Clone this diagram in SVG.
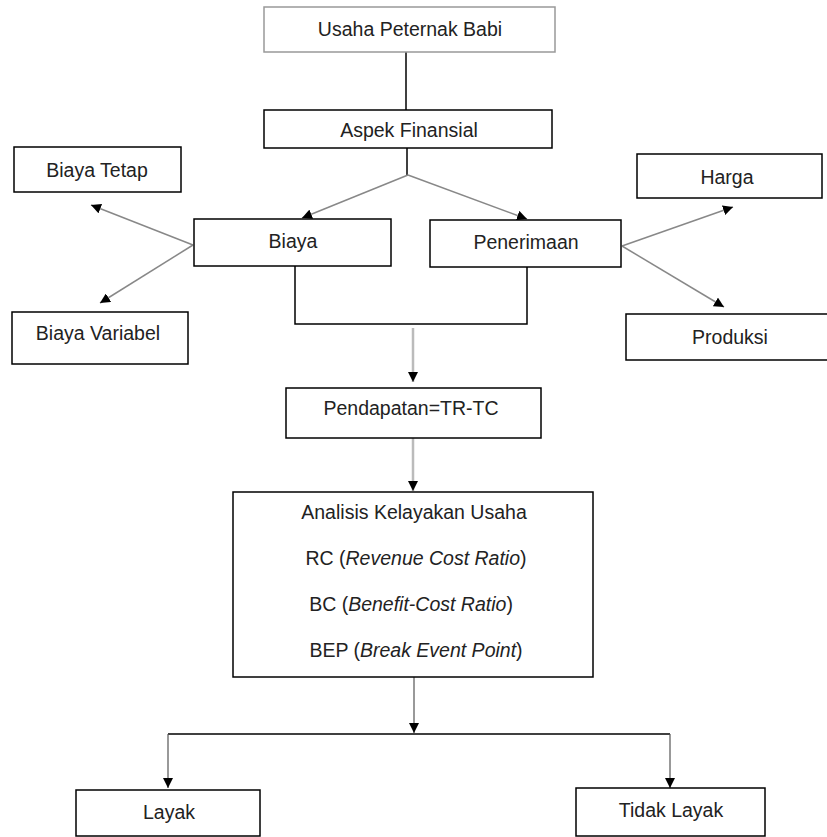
<svg xmlns="http://www.w3.org/2000/svg" width="827" height="837" viewBox="0 0 827 837">
<style>
.box{fill:#fff;stroke:#000;stroke-width:1.5}
.gbox{fill:#fff;stroke:#999;stroke-width:1.5}
text{font-family:"Liberation Sans",Arial,sans-serif;font-size:19.5px;fill:#222;text-anchor:middle}
.it{font-style:italic}
.k{fill:none;stroke:#000;stroke-width:1.5}
.g{fill:none;stroke:#888;stroke-width:1.5}
.lg{fill:none;stroke:#bbb;stroke-width:2.5}
.dg{fill:none;stroke:#555;stroke-width:1.2}
</style>
<defs>
<marker id="ah" viewBox="0 0 10 10" refX="10" refY="5" markerWidth="10" markerHeight="10" markerUnits="userSpaceOnUse" orient="auto">
<path d="M0,0 L10,5 L0,10 z" fill="#000"/>
</marker>
</defs>
<g id="connectors">
<line class="k" x1="406" y1="52" x2="406" y2="110"/>
<line class="k" x1="407" y1="148" x2="407" y2="175"/>
<line class="g" x1="408" y1="175" x2="302" y2="218" marker-end="url(#ah)"/>
<line class="g" x1="408" y1="175" x2="527" y2="219" marker-end="url(#ah)"/>
<line class="g" x1="193" y1="245" x2="91" y2="205" marker-end="url(#ah)"/>
<line class="g" x1="193" y1="245" x2="100" y2="303" marker-end="url(#ah)"/>
<line class="g" x1="622" y1="246" x2="733" y2="207" marker-end="url(#ah)"/>
<line class="g" x1="622" y1="246" x2="724" y2="307" marker-end="url(#ah)"/>
<polyline class="k" points="295,266 295,324 527,324 527,267"/>
<line class="lg" x1="413" y1="328" x2="413" y2="382" marker-end="url(#ah)"/>
<line class="lg" x1="413" y1="438" x2="413" y2="491" marker-end="url(#ah)"/>
<line class="dg" x1="414" y1="677" x2="414" y2="733" marker-end="url(#ah)"/>
<line class="k" x1="168" y1="734" x2="670" y2="734"/>
<line class="dg" x1="168" y1="734" x2="168" y2="788" marker-end="url(#ah)"/>
<line class="dg" x1="670" y1="734" x2="670" y2="788" marker-end="url(#ah)"/>
</g>
<g id="usaha"><rect class="gbox" x="264" y="7" width="291" height="45"/><text x="410" y="36">Usaha Peternak Babi</text></g>
<g id="aspek"><rect class="box" x="264" y="110" width="288" height="38"/><text x="409" y="137">Aspek Finansial</text></g>
<g id="biayatetap"><rect class="box" x="14" y="147" width="167" height="45"/><text x="97" y="177">Biaya Tetap</text></g>
<g id="harga"><rect class="box" x="637" y="154" width="185" height="44"/><text x="727" y="184">Harga</text></g>
<g id="biaya"><rect class="box" x="194" y="219" width="197" height="47"/><text x="293" y="248">Biaya</text></g>
<g id="penerimaan"><rect class="box" x="430" y="220" width="191" height="47"/><text x="526" y="249">Penerimaan</text></g>
<g id="biayavariabel"><rect class="box" x="12" y="312" width="176" height="52"/><text x="98" y="340">Biaya Variabel</text></g>
<g id="produksi"><rect class="box" x="626" y="314" width="202" height="46"/><text x="730" y="344">Produksi</text></g>
<g id="pendapatan"><rect class="box" x="286" y="388" width="255" height="50"/><text x="411" y="415">Pendapatan=TR-TC</text></g>
<g id="analisis"><rect class="box" x="233" y="492" width="360" height="185"/>
<text x="414" y="519">Analisis Kelayakan Usaha</text>
<text x="416" y="565">RC (<tspan class="it">Revenue Cost Ratio</tspan>)</text>
<text x="411" y="611">BC (<tspan class="it">Benefit-Cost Ratio</tspan>)</text>
<text x="416" y="657">BEP (<tspan class="it">Break Event Point</tspan>)</text>
</g>
<g id="layak"><rect class="box" x="76" y="790" width="184" height="46"/><text x="169" y="819">Layak</text></g>
<g id="tidaklayak"><rect class="box" x="576" y="788" width="189" height="48"/><text x="671" y="817">Tidak Layak</text></g>
</svg>
